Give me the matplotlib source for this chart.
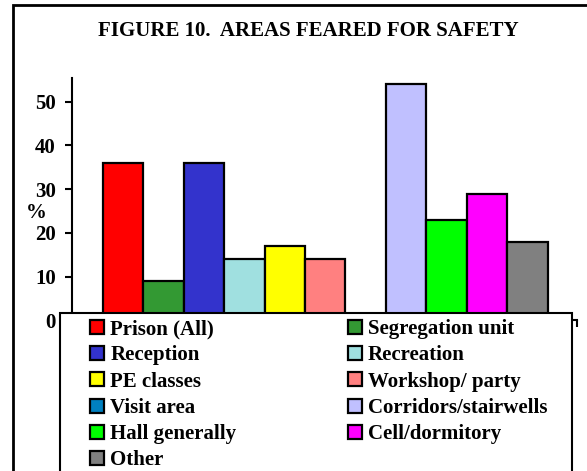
import matplotlib
matplotlib.use("Agg")
import matplotlib.pyplot as plt
from matplotlib.patches import Rectangle, Patch

categories = ["Prison (All)", "Segregation unit", "Reception", "Recreation",
              "PE classes", "Workshop/ party", "Visit area", "Corridors/stairwells",
              "Hall generally", "Cell/dormitory", "Other"]
values = [36, 9, 36, 14, 17, 14, 0, 54, 23, 29, 18]
colors = ["#FF0000", "#339933", "#3333CC", "#A0E0E0", "#FFFF00", "#FF8080",
          "#0080C0", "#C0C0FF", "#00FF00", "#FF00FF", "#808080"]
yticks = [0, 10, 20, 30, 40, 50]

plt.rcParams['font.family'] = ['Liberation Serif', 'DejaVu Serif']
plt.rcParams['font.weight'] = 'bold'

W, H = 587, 471
fig = plt.figure(figsize=(W / 100, H / 100), dpi=100)

def fx(px):
    return px / W

def fy(py):
    return 1 - py / H

ax_left, ax_right, ax_top, ax_bottom = 72.3, 577.0, 78.0, 320.4
ax = fig.add_axes([fx(ax_left), fy(ax_bottom), fx(ax_right) - fx(ax_left),
                   fy(ax_top) - fy(ax_bottom)])
ax.set_zorder(1)

x = list(range(len(values)))
bars = ax.bar(x, values, width=1.0, color=colors, edgecolor='black', linewidth=1.6)

ax.set_xlim(-1.25, 11.22)
ax.set_ylim(0, 55.4)
ax.set_yticks(yticks)
ax.set_yticklabels([str(v) for v in yticks], fontsize=15, fontweight='bold')
ax.set_xticks([-1.25, 11.22])
ax.set_xticklabels([])
ax.tick_params(axis='y', direction='out', length=5, width=1.5, pad=7)
ax.tick_params(axis='x', direction='out', length=5, width=1.5)
for s in ['top', 'right']:
    ax.spines[s].set_visible(False)
for s in ['left', 'bottom']:
    ax.spines[s].set_linewidth(1.5)

ax.text(-0.072, 0.445, "%", transform=ax.transAxes, ha='center', va='center',
        fontsize=15, fontweight='bold')

fig.text(fx(308), fy(36), "FIGURE 10.  AREAS FEARED FOR SAFETY", ha='center',
         va='baseline', fontsize=15, fontweight='bold')

# outer border (right and bottom edges lie outside the picture)
fig.patches.append(Rectangle((fx(13.3), fy(2000)), fx(2000) - fx(13.3), fy(5) - fy(2000),
                             transform=fig.transFigure, fill=False,
                             edgecolor='black', linewidth=2, zorder=3))

# legend box (bottom edge lies outside the picture)
fig.patches.append(Rectangle((fx(59.6), fy(2000)), fx(571.7) - fx(59.6), fy(312.7) - fy(2000),
                             transform=fig.transFigure, facecolor='white',
                             edgecolor='black', linewidth=1.5, zorder=5))

order = [0, 2, 4, 6, 8, 10, 1, 3, 5, 7, 9]
handles = [Patch(facecolor=colors[i], edgecolor='black', linewidth=1.6) for i in order]
labels = [categories[i] for i in order]
leg = fig.legend(handles, labels, ncol=2, loc='upper left',
                 bbox_to_anchor=(fx(86), fy(315)), frameon=False,
                 fontsize=15, handlelength=0.66, handleheight=0.66,
                 handletextpad=0.3, columnspacing=5.36, labelspacing=0.3,
                 borderpad=0.2, borderaxespad=0)
leg.set_zorder(6)
for t in leg.get_texts():
    t.set_fontweight('bold')

fig.savefig("out.png", dpi=100)
